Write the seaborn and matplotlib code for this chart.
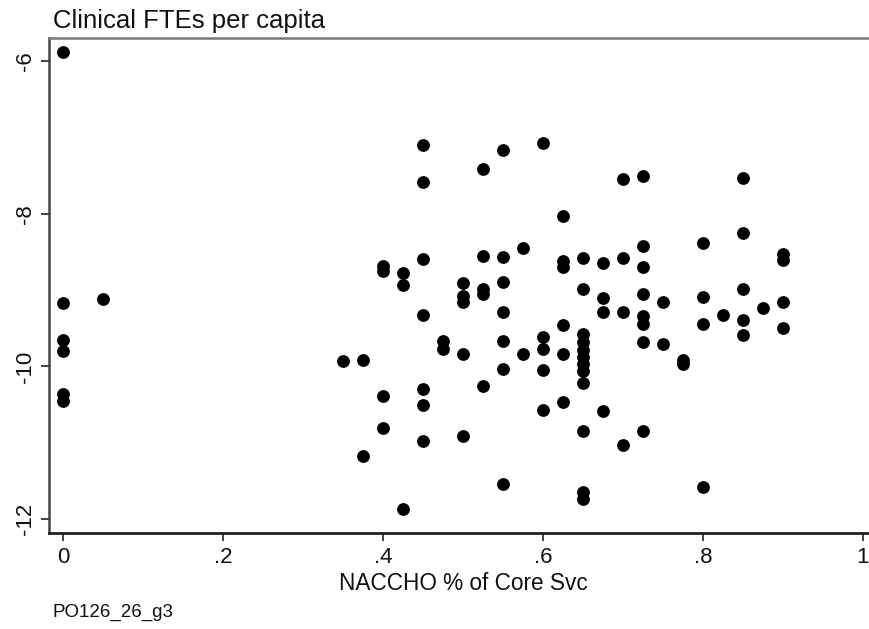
import matplotlib
matplotlib.use("Agg")
import matplotlib.pyplot as plt
import seaborn as sns
import pandas as pd

# Data
core_svc_share = [
    0, 0, 0, 0, 0, 0,
    0.05,
    0.35,
    0.375, 0.375,
    0.4, 0.4, 0.4, 0.4,
    0.425, 0.425, 0.425,
    0.45, 0.45, 0.45, 0.45, 0.45, 0.45, 0.45,
    0.475, 0.475,
    0.5, 0.5, 0.5, 0.5, 0.5,
    0.525, 0.525, 0.525, 0.525, 0.525,
    0.55, 0.55, 0.55, 0.55, 0.55, 0.55, 0.55,
    0.575, 0.575,
    0.6, 0.6, 0.6, 0.6, 0.6,
    0.625, 0.625, 0.625, 0.625, 0.625, 0.625,
    0.65, 0.65, 0.65, 0.65, 0.65, 0.65, 0.65, 0.65, 0.65, 0.65, 0.65, 0.65,
    0.675, 0.675, 0.675, 0.675,
    0.7, 0.7, 0.7, 0.7,
    0.725, 0.725, 0.725, 0.725, 0.725, 0.725, 0.725, 0.725,
    0.75, 0.75,
    0.775, 0.775,
    0.8, 0.8, 0.8, 0.8,
    0.825,
    0.85, 0.85, 0.85, 0.85, 0.85,
    0.875,
    0.9, 0.9, 0.9, 0.9,
]
clinical_ftes_log = [
    -5.88, -9.17, -9.65, -9.80, -10.36, -10.45,
    -9.12,
    -9.93,
    -9.91, -11.17,
    -8.68, -8.75, -10.39, -10.81,
    -8.77, -8.93, -11.87,
    -7.10, -7.59, -8.59, -9.33, -10.29, -10.51, -10.97,
    -9.67, -9.77,
    -8.91, -9.08, -9.15, -9.84, -10.91,
    -7.41, -8.55, -8.99, -9.05, -10.25,
    -7.16, -8.57, -8.90, -9.29, -9.67, -10.03, -11.54,
    -8.45, -9.84,
    -7.07, -9.61, -9.77, -10.05, -10.57,
    -8.03, -8.62, -8.70, -9.46, -9.84, -10.47,
    -8.58, -8.99, -9.58, -9.68, -9.78, -9.88, -9.97, -10.06, -10.22, -10.84, -11.64, -11.73,
    -8.65, -9.11, -9.29, -10.58,
    -7.54, -8.58, -9.29, -11.03,
    -7.50, -8.42, -8.70, -9.05, -9.34, -9.45, -9.68, -10.85,
    -9.15, -9.70,
    -9.91, -9.97,
    -8.38, -9.09, -9.44, -11.58,
    -9.32,
    -7.53, -8.25, -8.99, -9.39, -9.59,
    -9.23,
    -8.53, -8.60, -9.15, -9.49,
]
x_ticks = [0, 0.2, 0.4, 0.6, 0.8, 1.0]
x_tick_labels = ["0", ".2", ".4", ".6", ".8", "1"]
y_ticks = [-12, -10, -8, -6]
y_tick_labels = ["-12", "-10", "-8", "-6"]

sns.set_theme(style="white")
plt.rcParams["font.family"] = ["Liberation Sans", "DejaVu Sans"]

df = pd.DataFrame({"x": core_svc_share, "y": clinical_ftes_log})

fig = plt.figure(figsize=(8.7, 6.29), dpi=100)
ax = fig.add_axes([49 / 870, 1 - 533 / 629, (877 - 49) / 870, (533 - 38) / 629])

sns.scatterplot(data=df, x="x", y="y", ax=ax, color="black", s=85,
                edgecolor="black", linewidth=0, legend=False)

ax.set_xlim(-0.0175, 1.0175)
ax.set_ylim(-12.18, -5.70)
ax.set_xticks(x_ticks)
ax.set_xticklabels(x_tick_labels, fontsize=16)
ax.set_yticks(y_ticks)
ax.set_yticklabels(y_tick_labels, fontsize=16, rotation=90, va="center")
ax.tick_params(axis="both", which="major", direction="out", length=6, width=1.2,
               color="#222222", labelcolor="#111111", bottom=True, left=True)
ax.tick_params(axis="x", pad=4)
ax.tick_params(axis="y", pad=3)
ax.set_xlabel("")
ax.set_ylabel("")

ax.spines["top"].set_color("#777777")
ax.spines["top"].set_linewidth(1.8)
ax.spines["right"].set_visible(False)
ax.spines["left"].set_color("#444444")
ax.spines["left"].set_linewidth(1.8)
ax.spines["bottom"].set_color("#222222")
ax.spines["bottom"].set_linewidth(2.0)

fig.text(53 / 870, 1 - 21 / 629, "Clinical FTEs per capita", fontsize=18.5,
         ha="left", va="center", color="#111111")
fig.text(463 / 870, 1 - 584 / 629, "NACCHO % of Core Svc", fontsize=16.3,
         ha="center", va="center", color="#111111")
fig.text(53 / 870, 1 - 612 / 629, "PO126_26_g3", fontsize=13.5,
         ha="left", va="center", color="#111111")

fig.savefig("out.png", dpi=100, facecolor="white")
